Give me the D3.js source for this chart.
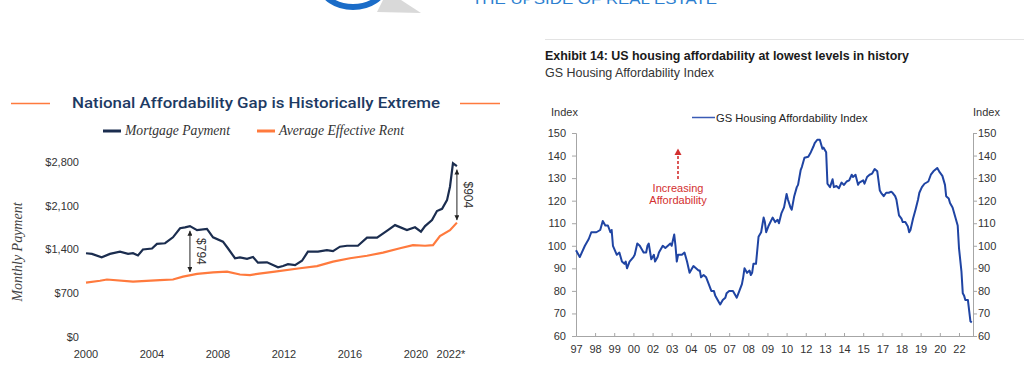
<!DOCTYPE html>
<html>
<head>
<meta charset="utf-8">
<script src="https://cdn.jsdelivr.net/npm/d3@7"></script>
<style>
  body { margin: 0; background: #fff; }
  svg { display: block; }
</style>
</head>
<body>
<div id="chart"></div>
<script>

// ---- left panel: mortgage payment vs average effective rent
var payYears = [2000.0, 2000.36, 2000.95, 2001.45, 2002.06, 2002.55, 2002.85, 2003.15, 2003.45, 2004.0,
  2004.3, 2004.79, 2005.27, 2005.7, 2006.0, 2006.3, 2006.73, 2007.33, 2007.7, 2008.3,
  2008.6, 2009.03, 2009.33, 2009.76, 2010.12, 2010.42, 2010.97, 2011.64, 2011.94, 2012.24,
  2012.67, 2013.09, 2013.45, 2014.06, 2014.6, 2014.97, 2015.39, 2015.82, 2016.48, 2017.03,
  2017.64, 2018.3, 2018.73, 2019.45, 2019.94, 2020.3, 2020.55, 2020.97, 2021.27, 2021.58,
  2021.88, 2022.06, 2022.24, 2022.48];
var mortgage = [1340, 1330, 1275, 1330, 1365, 1330, 1340, 1305, 1400, 1415,
  1490, 1500, 1595, 1740, 1755, 1775, 1710, 1730, 1595, 1525,
  1420, 1260, 1275, 1250, 1280, 1190, 1195, 1115, 1135, 1165,
  1150, 1220, 1365, 1365, 1390, 1375, 1445, 1460, 1460, 1590,
  1590, 1710, 1790, 1710, 1755, 1685, 1775, 1870, 2015, 2050,
  2190, 2405, 2780, 2735];

var rentYears = [2000.0, 2000.85, 2001.27, 2002.85, 2004.48, 2005.27, 2005.88, 2006.73, 2007.7, 2008.55,
  2009.33, 2009.94, 2010.5, 2011.45, 2012.97, 2014.0, 2014.97, 2016.0, 2017.03, 2018.0,
  2019.03, 2019.82, 2020.55, 2021.03, 2021.45, 2022.06, 2022.48];
var rent = [870, 900, 920, 885, 910, 920, 965, 1010, 1035, 1045,
  1000, 990, 1015, 1045, 1100, 1135, 1205, 1260, 1300, 1350,
  1420, 1470, 1460, 1470, 1615, 1710, 1830];

var payTicks = [0, 700, 1400, 2100, 2800];
var yearTicks = [2000, 2004, 2008, 2012, 2016, 2020, 2022];
var yearLabels = ["2000", "2004", "2008", "2012", "2016", "2020", "2022*"];

var gapYears = [2006.3, 2022.48];
var gapHigh = [1700, 2680];
var gapLow = [1040, 1870];
var gapLabels = ["$794", "$904"];

// ---- right panel: GS housing affordability index
var haiDates = ["1997-01","1997-04","1997-08","1997-11","1998-01","1998-05","1998-08","1998-10","1998-12","1999-02",
  "1999-04","1999-05","1999-06","1999-09","1999-11","2000-01","2000-03","2000-04","2000-05","2000-07",
  "2000-10","2000-11","2001-01","2001-03","2001-06","2001-08","2001-09","2001-10","2001-12","2002-02",
  "2002-03","2002-05","2002-06","2002-09","2002-11","2003-01","2003-03","2003-04","2003-06","2003-07",
  "2003-08","2003-09","2003-12","2004-02","2004-04","2004-06","2004-08","2004-09","2004-11","2005-01",
  "2005-02","2005-03","2005-05","2005-07","2005-09","2005-11","2006-01","2006-02","2006-05","2006-06",
  "2006-08","2006-10","2006-11","2007-01","2007-03","2007-04","2007-06","2007-07","2007-09","2007-11",
  "2007-12","2008-01","2008-03","2008-05","2008-06","2008-07","2008-08","2008-10","2008-12","2009-02",
  "2009-04","2009-05","2009-06","2009-08","2009-11","2010-01","2010-03","2010-04","2010-06","2010-08",
  "2010-10","2010-11","2011-01","2011-02","2011-04","2011-06","2011-07","2011-09","2011-10","2011-12",
  "2012-03","2012-05","2012-07","2012-08","2012-10","2012-12","2013-02","2013-03","2013-05","2013-06",
  "2013-08","2013-10","2013-11","2014-01","2014-03","2014-05","2014-07","2014-09","2014-11","2015-01",
  "2015-02","2015-04","2015-06","2015-07","2015-10","2015-11","2016-01","2016-03","2016-05","2016-07",
  "2016-09","2016-11","2016-12","2017-02","2017-04","2017-06","2017-08","2017-09","2017-11","2017-12",
  "2018-02","2018-04","2018-05","2018-07","2018-09","2018-10","2018-11","2019-01","2019-03","2019-05",
  "2019-06","2019-08","2019-10","2020-01","2020-03","2020-05","2020-08","2020-10","2020-12","2021-02",
  "2021-03","2021-05","2021-06","2021-08","2021-10","2021-12","2022-01","2022-03","2022-04","2022-05",
  "2022-06","2022-08","2022-10","2022-11"];
var haiValues = [98, 95, 100, 103, 106, 106, 107, 111, 109, 109,
  106, 107, 100, 96, 97, 93, 92, 93, 90, 93,
  95, 96, 101, 100, 97, 97, 100, 101, 94, 96,
  93, 95, 97, 100, 99, 100, 101, 100, 105, 100,
  93, 96, 96, 97, 93, 88, 90, 91, 90, 89,
  89, 86, 87, 86, 83, 80, 80, 78, 75, 74,
  76, 77, 79, 80, 80, 80, 78, 77, 80, 83,
  86, 90, 88, 89, 87, 88, 92, 92, 104, 106,
  112.5, 110.5, 106, 109, 112.5, 110.5, 111.5, 110, 114.5, 117,
  123, 120.5, 117, 116, 122, 126, 127, 133.5, 135, 139,
  139.5, 141.5, 144, 145.5, 147, 147, 143, 143.5, 141.5, 127.5,
  126, 129.5, 126, 126.5, 125.5, 128, 127, 128.5, 129, 131.5,
  130.5, 131.5, 127, 128, 129, 127.5, 130.5, 131.5, 132, 134,
  133, 124.5, 123.5, 122, 123.5, 123.5, 124, 123.5, 122, 120.5,
  113.5, 112, 110.5, 110.5, 108.5, 106, 107, 112, 116, 120.5,
  123.5, 126, 127.5, 128.5, 131.5, 133, 134.5, 132.5, 131, 127,
  122, 121, 119, 117, 113, 109, 99, 88.5, 79, 78,
  76, 76, 66.5, 66];
var haiTicks = [60, 70, 80, 90, 100, 110, 120, 130, 140, 150];

var navy = "#1b2d4f";
var orange = "#ff7a3d";
var blue = "#1f44a3";
var sans = "'Liberation Sans', Arial, sans-serif";
var serif = "'Liberation Serif', 'DejaVu Serif', serif";

var svg = d3.select("#chart").append("svg")
  .attr("width", 1024)
  .attr("height", 374)
  .attr("font-family", sans);

// logo fragment at the top
var logo = svg.append("g");
logo.append("polygon")
  .attr("points", "383,0 401,0 421,13 377,12")
  .attr("fill", "#d9d9d9");
logo.append("ellipse")
  .attr("cx", 353).attr("cy", -14)
  .attr("rx", 31).attr("ry", 21)
  .attr("fill", "none")
  .attr("stroke", "#1a6cc8")
  .attr("stroke-width", 6);
logo.append("text")
  .attr("x", 472).attr("y", 3.5)
  .attr("font-size", 15)
  .attr("textLength", 245)
  .attr("lengthAdjust", "spacingAndGlyphs")
  .attr("fill", "#2d7fd0")
  .text("THE UPSIDE OF REAL ESTATE");

// ================= left panel
var xL = d3.scaleLinear().domain([2000, 2022]).range([86, 449]);
var yL = d3.scaleLinear().domain([0, 2800]).range([337, 162]);

var left = svg.append("g");

left.append("text")
  .attr("x", 256).attr("y", 108)
  .attr("text-anchor", "middle")
  .attr("font-family", "Roboto, 'Liberation Sans', sans-serif")
  .attr("font-weight", 500)
  .attr("font-size", 15)
  .attr("textLength", 368)
  .attr("lengthAdjust", "spacingAndGlyphs")
  .attr("fill", "#1d3a63")
  .text("National Affordability Gap is Historically Extreme");

left.selectAll(".title-rule")
  .data([[11, 50], [460, 500]])
  .enter().append("line")
  .attr("x1", d => d[0]).attr("x2", d => d[1])
  .attr("y1", 103.5).attr("y2", 103.5)
  .attr("stroke", orange)
  .attr("stroke-width", 1.3);

// legend
var legendL = [
  {name: "Mortgage Payment", color: navy, x: 103, w: 105},
  {name: "Average Effective Rent", color: orange, x: 257, w: 125}
];
var lg = left.selectAll(".lg").data(legendL).enter().append("g");
lg.append("line")
  .attr("x1", d => d.x).attr("x2", d => d.x + 18)
  .attr("y1", 131).attr("y2", 131)
  .attr("stroke", d => d.color)
  .attr("stroke-width", 3);
lg.append("text")
  .attr("x", d => d.x + 22).attr("y", 135)
  .attr("font-family", serif)
  .attr("font-style", "italic")
  .attr("font-size", 14)
  .attr("textLength", d => d.w)
  .attr("lengthAdjust", "spacingAndGlyphs")
  .attr("fill", "#333")
  .text(d => d.name);

left.append("text")
  .attr("transform", "translate(22,252) rotate(-90)")
  .attr("text-anchor", "middle")
  .attr("font-family", serif)
  .attr("font-style", "italic")
  .attr("font-size", 14)
  .attr("fill", "#444")
  .text("Monthly Payment");

left.selectAll(".ytick")
  .data(payTicks)
  .enter().append("text")
  .attr("x", 79)
  .attr("y", d => yL(d))
  .attr("dy", "0.36em")
  .attr("text-anchor", "end")
  .attr("font-size", 11)
  .attr("fill", "#333")
  .text(d => "$" + d3.format(",")(d));

left.selectAll(".xtick")
  .data(yearTicks)
  .enter().append("text")
  .attr("x", (d, i) => xL(d) + (i === yearTicks.length - 1 ? 2 : 0))
  .attr("y", 358)
  .attr("text-anchor", "middle")
  .attr("font-size", 11)
  .attr("fill", "#333")
  .text((d, i) => yearLabels[i]);

var lineL = d3.line()
  .x(d => xL(d[0]))
  .y(d => yL(d[1]));

left.append("path")
  .datum(d3.zip(rentYears, rent))
  .attr("d", lineL)
  .attr("fill", "none")
  .attr("stroke", orange)
  .attr("stroke-width", 2.2);

left.append("path")
  .datum(d3.zip(payYears, mortgage))
  .attr("d", lineL)
  .attr("fill", "none")
  .attr("stroke", navy)
  .attr("stroke-width", 2.2);

// gap arrows
var defs = svg.append("defs");
defs.append("marker")
  .attr("id", "tip")
  .attr("viewBox", "0 0 6 6")
  .attr("refX", 6).attr("refY", 3)
  .attr("markerWidth", 5).attr("markerHeight", 5)
  .attr("markerUnits", "userSpaceOnUse")
  .attr("orient", "auto-start-reverse")
  .append("path")
  .attr("d", "M0,0 L6,3 L0,6 Z")
  .attr("fill", "#222");

var gaps = left.selectAll(".gap")
  .data(gapYears.map((y, i) => ({year: y, hi: gapHigh[i], lo: gapLow[i], label: gapLabels[i]})))
  .enter().append("g");
gaps.append("line")
  .attr("x1", d => xL(d.year)).attr("x2", d => xL(d.year))
  .attr("y1", d => yL(d.hi)).attr("y2", d => yL(d.lo))
  .attr("stroke", "#222")
  .attr("stroke-width", 1)
  .attr("marker-start", "url(#tip)")
  .attr("marker-end", "url(#tip)");
gaps.append("text")
  .attr("transform", d => "translate(" + (xL(d.year) + 11) + "," + yL((d.hi + d.lo) / 2) + ") rotate(90)")
  .attr("text-anchor", "middle")
  .attr("dy", "0.35em")
  .attr("font-size", 12)
  .attr("fill", "#333")
  .text(d => d.label);

// ================= right panel
var parseMonth = d3.timeParse("%Y-%m");
var hai = haiDates.map((d, i) => ({date: parseMonth(d), value: haiValues[i]}));

var xR = d3.scaleTime()
  .domain([new Date(1997, 0, 1), new Date(2022, 11, 1)])
  .range([576, 973]);
var yR = d3.scaleLinear().domain([60, 150]).range([336, 133]);

var right = svg.append("g");

right.append("line")
  .attr("x1", 545).attr("x2", 1024)
  .attr("y1", 39.5).attr("y2", 39.5)
  .attr("stroke", "#e3e3e3");

right.append("text")
  .attr("x", 545).attr("y", 60)
  .attr("font-family", "'Liberation Sans Narrow', 'Liberation Sans', Arial, sans-serif")
  .attr("font-weight", "bold")
  .attr("font-size", 13.5)
  .attr("textLength", 364)
  .attr("lengthAdjust", "spacingAndGlyphs")
  .attr("fill", "#1a1a1a")
  .text("Exhibit 14: US housing affordability at lowest levels in history");

right.append("text")
  .attr("x", 545).attr("y", 76.5)
  .attr("font-family", "'Liberation Sans Narrow', 'Liberation Sans', Arial, sans-serif")
  .attr("font-size", 13)
  .attr("textLength", 169)
  .attr("lengthAdjust", "spacingAndGlyphs")
  .attr("fill", "#333")
  .text("GS Housing Affordability Index");

right.append("text")
  .attr("x", 551).attr("y", 116)
  .attr("font-size", 11).attr("fill", "#333")
  .text("Index");
right.append("text")
  .attr("x", 973).attr("y", 116)
  .attr("font-size", 11).attr("fill", "#333")
  .text("Index");

right.append("line")
  .attr("x1", 692).attr("x2", 715)
  .attr("y1", 117.5).attr("y2", 117.5)
  .attr("stroke", "#3a5bb5")
  .attr("stroke-width", 1.5);
right.append("text")
  .attr("x", 716).attr("y", 121.5)
  .attr("font-size", 11.2).attr("fill", "#222")
  .text("GS Housing Affordability Index");

var xTicks = d3.timeMonth.range(new Date(1997, 0, 1), new Date(2022, 1, 1), 15);

var xAxis = right.append("g")
  .attr("transform", "translate(0,336)")
  .call(d3.axisBottom(xR)
    .tickValues(xTicks)
    .tickFormat(d3.timeFormat("%y"))
    .tickSizeInner(-3)
    .tickSizeOuter(0)
    .tickPadding(9));

var yAxisL = right.append("g")
  .attr("transform", "translate(576,0)")
  .call(d3.axisLeft(yR).tickValues(haiTicks).tickSize(4).tickPadding(6));

var yAxisR = right.append("g")
  .attr("transform", "translate(973,0)")
  .call(d3.axisRight(yR).tickValues(haiTicks).tickSize(4).tickPadding(1));

right.selectAll(".domain, .tick line").attr("stroke", "#a6a6a6");
right.selectAll(".tick text")
  .attr("font-family", sans)
  .attr("font-size", 11)
  .attr("fill", "#333");

right.append("path")
  .datum(hai)
  .attr("d", d3.line().x(d => xR(d.date)).y(d => yR(d.value)))
  .attr("fill", "none")
  .attr("stroke", blue)
  .attr("stroke-width", 2)
  .attr("stroke-linejoin", "round");

// red annotation
var red = "#d3302f";
right.append("line")
  .attr("x1", 678).attr("x2", 678)
  .attr("y1", 179).attr("y2", 155)
  .attr("stroke", red)
  .attr("stroke-width", 1.6)
  .attr("stroke-dasharray", "3,2");
right.append("polygon")
  .attr("points", "674.5,155 681.5,155 678,148.5")
  .attr("fill", red);
right.selectAll(".note")
  .data(["Increasing", "Affordability"])
  .enter().append("text")
  .attr("x", 678)
  .attr("y", (d, i) => 191.5 + i * 12.5)
  .attr("text-anchor", "middle")
  .attr("font-size", 11)
  .attr("fill", red)
  .text(d => d);

</script>
</body>
</html>
